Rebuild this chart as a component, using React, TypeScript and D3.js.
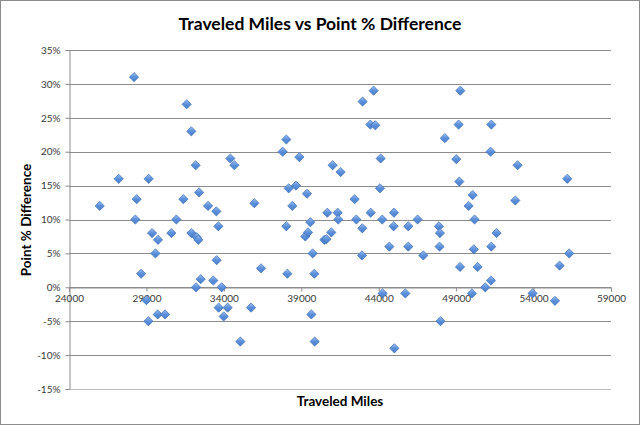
import * as d3 from "d3";
import { useEffect, useRef } from "react";

// Traveled miles per team and point % difference
const miles = [
  25985, 27210, 28200, 28370, 28285, 28655, 29145, 28997, 29125, 29365,
  29750, 29580, 29730, 30200, 30610, 30935, 31385, 31600, 31900, 31900,
  32245, 32355, 32180, 32400, 32205, 32505, 32980, 33515, 33645, 33535,
  33320, 33860, 33665, 34245, 33990, 34420, 34680, 35065, 35755, 35970,
  36400, 37796, 38035, 38035, 38100, 38185, 38420, 38660, 38875, 39260,
  39370, 39435, 39585, 39650, 39735, 39843, 39865, 40490, 40620, 40683,
  40940, 41025, 41350, 41390, 41540, 42445, 42555, 42960, 42940, 42920,
  43460, 43480, 43670, 43780, 44080, 44125, 44230, 44250, 44685, 44985,
  44960, 45010, 45720, 45910, 45910, 46510, 46880, 47890, 47955, 47930,
  47990, 48270, 49010, 49160, 49270, 49205, 49250, 50140, 49805, 50020,
  50065, 50190, 50385, 50880, 51250, 51270, 51225, 51270, 51610, 52820,
  52970, 53935, 55380, 55680, 56175, 56300,
];
const pointDiff = [
  12.0, 16.0, 31.0, 13.0, 10.0, 2.0, 16.0, -1.9, -5.0, 8.0,
  7.0, 5.0, -4.0, -4.0, 8.0, 10.0, 13.0, 27.0, 23.0, 8.0,
  7.4, 7.0, 18.0, 14.0, 0.0, 1.2, 12.0, 11.2, 9.0, 4.0,
  1.0, 0.0, -3.0, -3.0, -4.3, 19.0, 18.0, -8.0, -3.0, 12.4,
  2.8, 20.0, 21.8, 9.0, 2.0, 14.6, 12.0, 15.0, 19.2, 7.5,
  13.8, 8.1, 9.6, -4.0, 5.0, 2.0, -8.0, 7.0, 7.1, 11.0,
  8.1, 18.0, 11.0, 10.0, 17.0, 13.0, 10.0, 27.4, 8.7, 4.7,
  24.0, 11.0, 29.0, 23.9, 14.6, 19.0, 10.0, -0.9, 6.0, 11.0,
  9.0, -9.0, -0.9, 9.0, 6.0, 10.0, 4.7, 9.0, 8.0, 6.0,
  -5.0, 22.0, 18.9, 24.0, 29.0, 15.6, 3.0, 5.6, 12.0, -0.9,
  13.6, 10.0, 3.0, 0.0, 1.0, 6.0, 20.0, 24.0, 8.0, 12.8,
  18.0, -0.9, -2.0, 3.2, 16.0, 5.0,
];
const xTicks = [24000, 29000, 34000, 39000, 44000, 49000, 54000, 59000];
const yTicks = [-15, -10, -5, 0, 5, 10, 15, 20, 25, 30, 35];

const title = "Traveled Miles vs Point % Difference";
const xTitle = "Traveled Miles";
const yTitle = "Point % Difference";

const width = 640;
const height = 425;
const font = "Lato, 'Open Sans', sans-serif";

export default function App() {
  const ref = useRef<SVGSVGElement | null>(null);

  useEffect(() => {
    document.body.style.margin = "0";
    const svg = d3.select(ref.current);
    svg.selectAll("*").remove();

    const x = d3.scaleLinear().domain([24000, 59000]).range([69, 611]);
    const y = d3.scaleLinear().domain([-15, 35]).range([389, 50]);

    const defs = svg.append("defs");
    const grad = defs
      .append("linearGradient")
      .attr("id", "mk")
      .attr("x1", 0)
      .attr("y1", 0)
      .attr("x2", 0)
      .attr("y2", 1);
    grad.append("stop").attr("offset", "0%").attr("stop-color", "#9cc0f2");
    grad.append("stop").attr("offset", "50%").attr("stop-color", "#5a8fdb");
    grad.append("stop").attr("offset", "100%").attr("stop-color", "#4a80cf");

    svg
      .append("rect")
      .attr("x", 0.5)
      .attr("y", 0.5)
      .attr("width", width - 1)
      .attr("height", height - 1)
      .attr("fill", "#fff")
      .attr("stroke", "#8c8c8c");

    // gridlines
    svg
      .append("g")
      .selectAll("line")
      .data(yTicks)
      .enter()
      .append("line")
      .attr("x1", x(24000))
      .attr("x2", x(59000))
      .attr("y1", (d) => Math.round(y(d)) + 0.5)
      .attr("y2", (d) => Math.round(y(d)) + 0.5)
      .attr("stroke", (d) => (d === -15 ? "#bcbcbc" : "#8c8c8c"))
      .attr("stroke-width", 1);

    // y axis
    const yAxis = svg
      .append("g")
      .attr("transform", `translate(${Math.round(x(24000)) + 0.5},0)`)
      .call(
        d3
          .axisLeft(y)
          .tickValues(yTicks)
          .tickSize(4)
          .tickPadding(5)
          .tickFormat((d) => `${d}%`)
      );

    // x axis at 0%
    const xAxis = svg
      .append("g")
      .attr("transform", `translate(0,${Math.round(y(0)) + 0.5})`)
      .call(
        d3
          .axisBottom(x)
          .tickValues(xTicks)
          .tickSize(4)
          .tickPadding(3)
          .tickFormat((d) => `${d}`)
      );

    [xAxis, yAxis].forEach((a) => {
      a.select(".domain").attr("stroke", "#8c8c8c");
      a.selectAll(".tick line").attr("stroke", "#8c8c8c");
      a.selectAll("text")
        .attr("fill", "#3a3a3a")
        .style("font-family", font)
        .style("font-size", "10px");
    });

    // markers
    const diamond = d3.symbol().type(d3.symbolDiamond2).size(54);
    svg
      .append("g")
      .selectAll("path")
      .data(miles.map((m, i) => [m, pointDiff[i]]))
      .enter()
      .append("path")
      .attr("d", diamond)
      .attr("transform", (d) => `translate(${x(d[0])},${y(d[1])})`)
      .attr("fill", "url(#mk)")
      .attr("stroke", "#3c6cb2")
      .attr("stroke-width", 0.7);

    svg
      .append("text")
      .attr("x", 320)
      .attr("y", 30)
      .attr("text-anchor", "middle")
      .style("font-family", font)
      .style("font-weight", "bold")
      .style("font-size", "17.5px")
      .text(title);

    svg
      .append("text")
      .attr("x", 340)
      .attr("y", 406)
      .attr("text-anchor", "middle")
      .style("font-family", font)
      .style("font-weight", "bold")
      .style("font-size", "13.5px")
      .text(xTitle);

    svg
      .append("text")
      .attr("transform", "translate(31,220) rotate(-90)")
      .attr("text-anchor", "middle")
      .style("font-family", font)
      .style("font-weight", "bold")
      .style("font-size", "13.5px")
      .text(yTitle);
  }, []);

  return <svg ref={ref} width={width} height={height} style={{ display: "block" }} />;
}
